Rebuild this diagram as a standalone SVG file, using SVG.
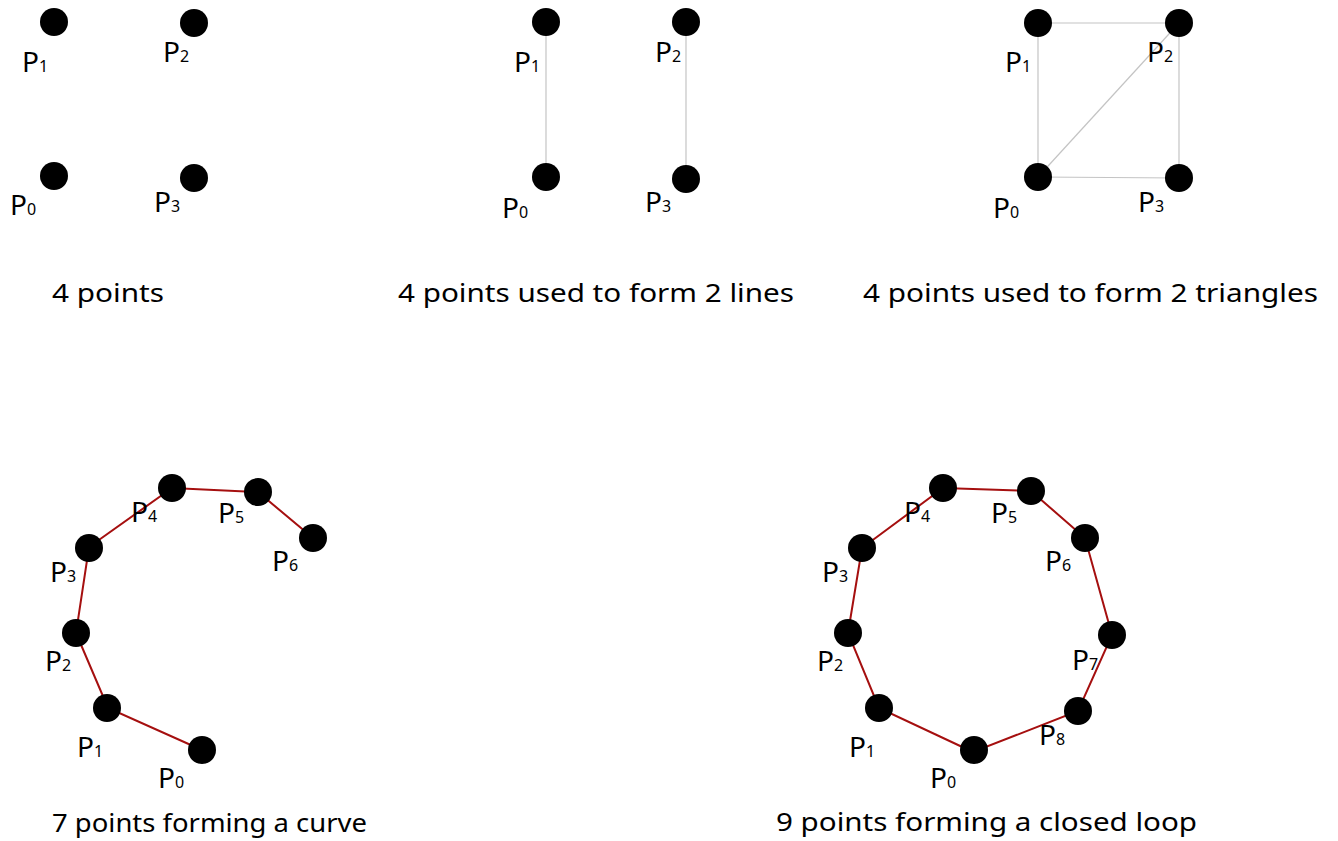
<svg xmlns="http://www.w3.org/2000/svg" width="1338" height="841" viewBox="0 0 1338 841">
<style>
.pt{fill:#000}
.lbl{font-family:"Noto Sans","Open Sans",sans-serif;font-size:28px;fill:#000}
.sub{font-size:16px}
.cap{font-family:"Noto Sans","Open Sans",sans-serif;font-size:25px;fill:#000}
.gray{stroke:#c4c4c4;stroke-width:1.2;fill:none}
.red{stroke:#a50f0f;stroke-width:2;fill:none;stroke-linejoin:miter}
</style>
<rect width="1338" height="841" fill="#fff"/>
<g id="connectors">
<line class="gray" x1="546" y1="22" x2="546" y2="177"/>
<line class="gray" x1="686" y1="22" x2="686" y2="179"/>
<line class="gray" x1="1038" y1="23" x2="1179" y2="23"/>
<line class="gray" x1="1038" y1="23" x2="1038" y2="177"/>
<line class="gray" x1="1179" y1="23" x2="1179" y2="178"/>
<line class="gray" x1="1038" y1="177" x2="1179" y2="178"/>
<line class="gray" x1="1038" y1="177" x2="1179" y2="23"/>
<polyline class="red" points="202,750 108,708 76,633 89,547 172,488 258,492 313,538"/>
<polygon class="red" points="973,752 879,708 848,633 862,548 943,488 1031,491 1085,538 1112,635 1078,711"/>
</g>
<g id="panel1">
<g id="p1-P0"><circle class="pt" cx="54" cy="176" r="14"/><text class="lbl" x="10" y="215">P<tspan class="sub">0</tspan></text></g>
<g id="p1-P1"><circle class="pt" cx="54" cy="22" r="14"/><text class="lbl" x="22" y="72">P<tspan class="sub">1</tspan></text></g>
<g id="p1-P2"><circle class="pt" cx="194" cy="23" r="14"/><text class="lbl" x="163" y="62">P<tspan class="sub">2</tspan></text></g>
<g id="p1-P3"><circle class="pt" cx="194" cy="178" r="14"/><text class="lbl" x="154" y="212">P<tspan class="sub">3</tspan></text></g>
<text class="cap" x="52" y="302" textLength="112" lengthAdjust="spacingAndGlyphs">4 points</text>
</g>
<g id="panel2">
<g id="p2-P0"><circle class="pt" cx="546" cy="177" r="14"/><text class="lbl" x="502" y="218">P<tspan class="sub">0</tspan></text></g>
<g id="p2-P1"><circle class="pt" cx="546" cy="22" r="14"/><text class="lbl" x="514" y="72">P<tspan class="sub">1</tspan></text></g>
<g id="p2-P2"><circle class="pt" cx="686" cy="22" r="14"/><text class="lbl" x="655" y="62">P<tspan class="sub">2</tspan></text></g>
<g id="p2-P3"><circle class="pt" cx="686" cy="179" r="14"/><text class="lbl" x="645" y="212">P<tspan class="sub">3</tspan></text></g>
<text class="cap" x="398" y="302" textLength="396" lengthAdjust="spacingAndGlyphs">4 points used to form 2 lines</text>
</g>
<g id="panel3">
<g id="p3-P0"><circle class="pt" cx="1038" cy="177" r="14"/><text class="lbl" x="993" y="218">P<tspan class="sub">0</tspan></text></g>
<g id="p3-P1"><circle class="pt" cx="1038" cy="23" r="14"/><text class="lbl" x="1005" y="72">P<tspan class="sub">1</tspan></text></g>
<g id="p3-P2"><circle class="pt" cx="1179" cy="23" r="14"/><text class="lbl" x="1147" y="62">P<tspan class="sub">2</tspan></text></g>
<g id="p3-P3"><circle class="pt" cx="1179" cy="178" r="14"/><text class="lbl" x="1138" y="212">P<tspan class="sub">3</tspan></text></g>
<text class="cap" x="863" y="302" textLength="455" lengthAdjust="spacingAndGlyphs">4 points used to form 2 triangles</text>
</g>
<g id="panel4">
<g id="c-P0"><circle class="pt" cx="202" cy="750" r="14"/><text class="lbl" x="158" y="788">P<tspan class="sub">0</tspan></text></g>
<g id="c-P1"><circle class="pt" cx="107" cy="708" r="14"/><text class="lbl" x="77" y="757">P<tspan class="sub">1</tspan></text></g>
<g id="c-P2"><circle class="pt" cx="76" cy="633" r="14"/><text class="lbl" x="45" y="671">P<tspan class="sub">2</tspan></text></g>
<g id="c-P3"><circle class="pt" cx="89" cy="548" r="14"/><text class="lbl" x="50" y="582">P<tspan class="sub">3</tspan></text></g>
<g id="c-P4"><circle class="pt" cx="172" cy="488" r="14"/><text class="lbl" x="131" y="522">P<tspan class="sub">4</tspan></text></g>
<g id="c-P5"><circle class="pt" cx="258" cy="492" r="14"/><text class="lbl" x="218" y="523">P<tspan class="sub">5</tspan></text></g>
<g id="c-P6"><circle class="pt" cx="313" cy="538" r="14"/><text class="lbl" x="272" y="571">P<tspan class="sub">6</tspan></text></g>
<text class="cap" x="52" y="832" textLength="315" lengthAdjust="spacingAndGlyphs">7 points forming a curve</text>
</g>
<g id="panel5">
<g id="l-P0"><circle class="pt" cx="974" cy="750" r="14"/><text class="lbl" x="930" y="788">P<tspan class="sub">0</tspan></text></g>
<g id="l-P1"><circle class="pt" cx="879" cy="708" r="14"/><text class="lbl" x="849" y="757">P<tspan class="sub">1</tspan></text></g>
<g id="l-P2"><circle class="pt" cx="848" cy="633" r="14"/><text class="lbl" x="817" y="671">P<tspan class="sub">2</tspan></text></g>
<g id="l-P3"><circle class="pt" cx="862" cy="548" r="14"/><text class="lbl" x="822" y="582">P<tspan class="sub">3</tspan></text></g>
<g id="l-P4"><circle class="pt" cx="943" cy="488" r="14"/><text class="lbl" x="904" y="522">P<tspan class="sub">4</tspan></text></g>
<g id="l-P5"><circle class="pt" cx="1031" cy="491" r="14"/><text class="lbl" x="991" y="523">P<tspan class="sub">5</tspan></text></g>
<g id="l-P6"><circle class="pt" cx="1085" cy="538" r="14"/><text class="lbl" x="1045" y="571">P<tspan class="sub">6</tspan></text></g>
<g id="l-P7"><circle class="pt" cx="1112" cy="635" r="14"/><text class="lbl" x="1072" y="670">P<tspan class="sub">7</tspan></text></g>
<g id="l-P8"><circle class="pt" cx="1078" cy="711" r="14"/><text class="lbl" x="1039" y="745">P<tspan class="sub">8</tspan></text></g>
<text class="cap" x="776" y="831" textLength="421" lengthAdjust="spacingAndGlyphs">9 points forming a closed loop</text>
</g>
</svg>
